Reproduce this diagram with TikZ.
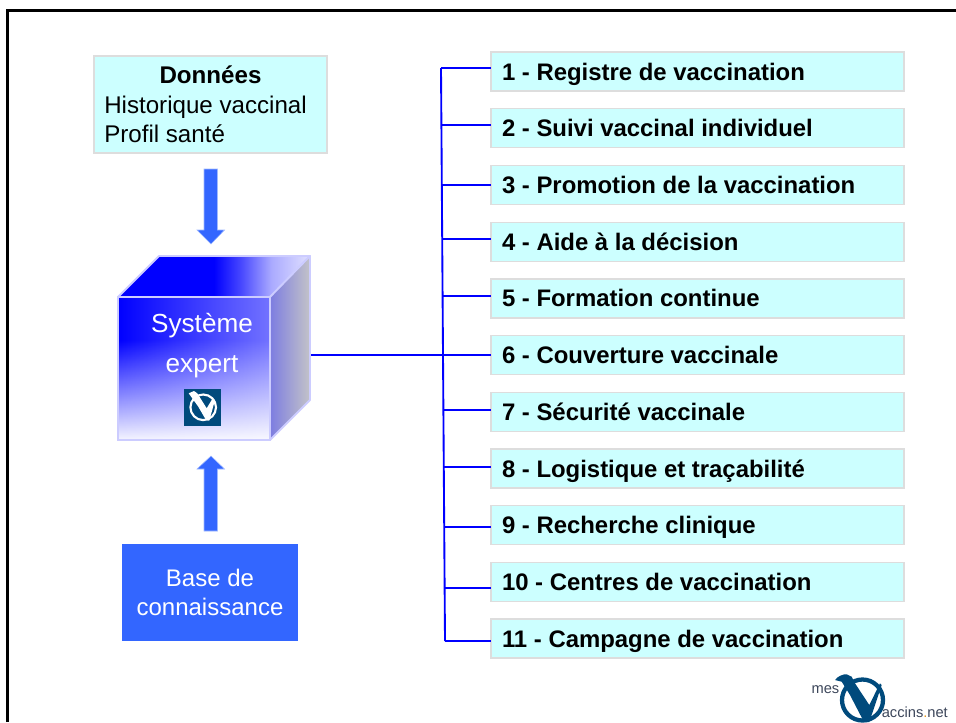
\documentclass[tikz,border=0pt]{standalone}
\usepackage{fontspec}
\setmainfont{Liberation Sans}
\usetikzlibrary{fadings,calc}
\definecolor{boxfill}{RGB}{204,255,255}
\definecolor{boxline}{RGB}{221,221,221}
\definecolor{arrowblue}{RGB}{51,102,255}
\definecolor{arrowedge}{RGB}{160,185,255}
\definecolor{cubeline}{RGB}{204,204,255}
\definecolor{logoblue}{RGB}{0,74,124}
\definecolor{dotorange}{RGB}{230,150,30}
\definecolor{brandgrey}{RGB}{60,70,90}
\definecolor{frontend}{RGB}{245,245,255}
\newcommand{\tightwords}{\spaceskip=4.98pt\relax}
\pgfdeclareverticalshading{frontv}{100bp}{color(0bp)=(frontend); color(25bp)=(frontend); color(60bp)=(blue); color(100bp)=(blue)}
\pgfdeclarehorizontalshading{toph}{100bp}{color(0bp)=(blue); color(50bp)=(blue); color(57bp)=(blue!72!white); color(65bp)=(blue!33!white); color(75bp)=(blue!12!white); color(100bp)=(blue!12!white)}
\tikzset{
  itembox/.style={draw=boxline,line width=1pt,fill=boxfill,minimum width=309.75pt,minimum height=29.25pt,inner sep=0pt,outer sep=0pt,text width=293.25pt,text height=14pt,text depth=1.2pt,align=left,font=\fontsize{17.93}{20}\selectfont\bfseries},
  wire/.style={draw=blue,line width=1.4pt},
  blockarrow/.style={fill=arrowblue,draw=arrowedge,line width=0.4pt},
  facet/.style={draw=cubeline,line width=1.4pt,line join=round},
  datatext/.style={font=\fontsize{18.1}{20}\selectfont,inner sep=0pt},
  cubetext/.style={text=white,font=\fontsize{19.6}{20}\selectfont,inner sep=0pt},
  brandtext/.style={text=brandgrey,font=\fontsize{11}{12}\selectfont,inner sep=0pt},
}
\tikzfading[name=fromright,left color=transparent!100,middle color=transparent!100,right color=transparent!55]
\begin{document}
\begin{tikzpicture}[x=0.75pt,y=-0.75pt]
\useasboundingbox (0,0) rectangle (956,722);
% frame
\draw[line width=2.3pt] (7.5,722) -- (7.5,10.5) -- (956,10.5);
% data box
\node[draw=boxline,line width=1pt,fill=boxfill,minimum width=174.75pt,minimum height=72.75pt,inner sep=0pt] (data) at (210.5,104.5) {};
\node[datatext,anchor=base] (t1) at (210.5,83.5) {\bfseries Données};
\node[datatext,anchor=base west] (t2) at (104,113) {Historique vaccinal};
\node[datatext,anchor=base west] (t3) at (104,142) {Profil santé};
% arrows
\path[blockarrow] (204,169) -- (217.5,169) -- (217.5,230) -- (224.5,230) -- (211,244) -- (197,230) -- (204,230) -- cycle;
\path[blockarrow] (204,531) -- (217.5,531) -- (217.5,469) -- (224.5,469) -- (211,456) -- (197,469) -- (204,469) -- cycle;
% cube
\path[shading=toph] (118,297) -- (159,256) -- (310,256) -- (270,297) -- cycle;
\draw[facet] (118,297) -- (159,256) -- (310,256) -- (270,297) -- cycle;
\path[left color={rgb,255:red,125;green,125;blue,225},right color={rgb,255:red,195;green,195;blue,200}] (270,297) -- (310,256) -- (310,400) -- (270,440) -- cycle;
\draw[facet] (270,297) -- (310,256) -- (310,400) -- (270,440) -- cycle;
\path[shading=frontv] (118,297) rectangle (270,440);
\fill[white,path fading=fromright] (118,297) rectangle (270,440);
\node[draw=cubeline,line width=1.4pt,minimum width=114pt,minimum height=107.25pt,inner sep=0pt] (cube) at (194,368.5) {};
\coordinate (cubeE) at (311,355);
\node[cubetext,anchor=base] (s1) at (202,332) {Système};
\node[cubetext,anchor=base] (s2) at (202,372) {expert};
% small logo
\node[fill=logoblue,minimum size=27.75pt,inner sep=0pt] (logo) at (202.5,407.5) {};
\draw[white,line width=1.6pt] (203.2,407.3) circle (12.8);
\fill[white] (188.7,393.3) -- (194,391) -- (197.3,393.3) -- (206.7,408.3) -- (212.7,398.3) -- (215,400) -- (209.3,420.7) -- (206,420) -- (198.3,406.7) -- cycle;
% base
\node[fill=arrowblue,minimum width=132pt,minimum height=72.75pt,inner sep=0pt,text=white,align=center,font=\fontsize{18}{21.75}\selectfont] (base) at (210,592.5) {Base de\\connaissance};
% items
\foreach \i/\y/\lab in {1/71.5/{1 - Registre de vaccination},2/128.2/{2 - Suivi vaccinal individuel},3/185/{3 - Promotion de la vaccination},4/241.7/{4 - Aide à la décision},5/298.4/{5 - Formation continue},6/355.1/{6 - Couverture vaccinale},7/411.8/{7 - Sécurité vaccinale},8/468.5/{8 - Logistique et traçabilité},9/525.2/{9 - Recherche clinique},10/581.9/{10 - Centres de vaccination},11/638.6/{11 - Campagne de vaccination}}
  \node[itembox] (n\i) at (697.5,\y) {\tightwords\lab};
% connectors
\coordinate (ttop) at (441,68);
\coordinate (tbot) at (445,641);
\draw[wire] (ttop) -- (tbot);
\foreach \i/\y/\xx in {1/68/441,2/125/441.5,3/185/442,4/239/442.5,5/296/443,7/410/444,8/467/444,10/588/445,11/641/445}{
  \coordinate (c\i) at (\xx,\y);
  \draw[wire] (c\i) -- (c\i -| n\i.west);
}
\coordinate (c9) at (444.5,527);
\draw[wire,line width=2pt] (c9) -- (c9 -| n9.west);
\draw[wire] (cubeE) -- (cubeE -| n6.west);
% brand logo
\node[brandtext,anchor=base east] (mes) at (839.5,693) {mes};
\node[brandtext,anchor=base west] (net) at (881.5,717.5) {accins\textcolor{dotorange}{.}net};
\draw[logoblue,line width=3.2pt] (862.5,700) circle (20.5);
\fill[logoblue] (835,680) .. controls (838,676) and (843,674) .. (846.7,674.3) -- (851.7,676.7) -- (855,683.3) -- (869.3,705) -- (880,683.3) -- (881.7,685) -- (869.3,722) -- (864,722) -- (850,695) -- (841.7,681.7) -- cycle;
\end{tikzpicture}
\end{document}
